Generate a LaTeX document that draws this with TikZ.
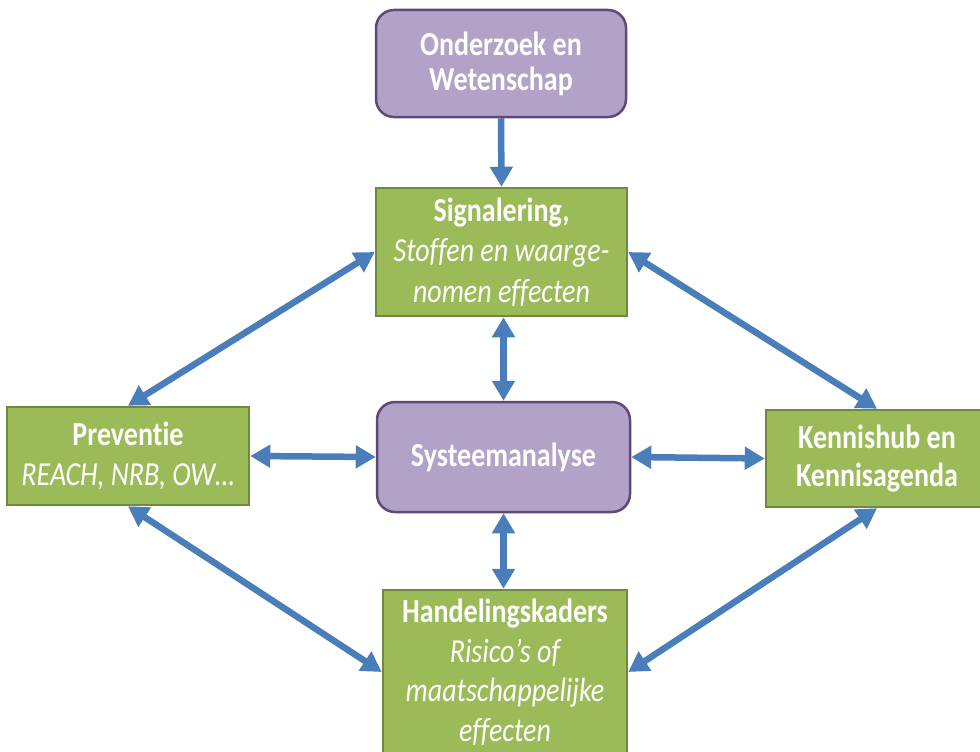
\documentclass[tikz,border=0pt]{standalone}
\usepackage{fontspec}
\setmainfont[Ligatures=NoCommon]{Carlito}
\usepackage{graphicx}
\usetikzlibrary{arrows.meta}
\definecolor{purfill}{HTML}{B3A2C7}
\definecolor{purline}{HTML}{5F497A}
\definecolor{grnfill}{HTML}{9BBB59}
\definecolor{grnline}{HTML}{71893F}
\definecolor{arrblue}{HTML}{4A7EBB}
\newcommand{\boxtext}[3]{\scalebox{1}[1.2]{\parbox{#1}{\centering\fontsize{28}{#2}\selectfont #3}}}
\begin{document}
\begin{tikzpicture}[x=1pt,y=-1pt,
  purbox/.style={draw=purline, fill=purfill, line width=2.5pt, rounded corners=18pt, inner sep=0pt, text=white},
  grnbox/.style={draw=grnline, fill=grnfill, line width=2.5pt, inner sep=0pt, text=white},
  oneway/.style={draw=arrblue, line width=6.5pt, -{Triangle[length=20pt,width=22pt]}},
  twoway/.style={draw=arrblue, line width=6.5pt, {Triangle[length=20pt,width=22pt]}-{Triangle[length=20pt,width=22pt]}}]
\fill[white] (0,0) rectangle (980,752);
\useasboundingbox (0,0) rectangle (980,752);

\node[purbox, minimum width=250pt, minimum height=107pt] (ow) at (501,63.5)
  {\boxtext{240pt}{29}{\bfseries Onderzoek en\\Wetenschap}};
\node[grnbox, minimum width=251pt, minimum height=128pt] (sig) at (501.5,252)
  {\boxtext{245pt}{34}{\textbf{Signalering,}\\\itshape Stoffen en waarge-\\nomen effecten}};
\node[purbox, minimum width=253pt, minimum height=110pt] (sys) at (503.5,457)
  {\boxtext{240pt}{29}{\bfseries Systeemanalyse}};
\node[grnbox, minimum width=242pt, minimum height=98pt] (prev) at (128,456)
  {\boxtext{236pt}{33}{\textbf{Preventie}\\\itshape REACH, NRB, OW…}};
\node[grnbox, minimum width=222pt, minimum height=97pt] (kh) at (877,458.5)
  {\boxtext{215pt}{31}{\bfseries Kennishub en\\Kennisagenda}};
\node[grnbox, minimum width=244pt, minimum height=164pt] (hk) at (505,672)
  {\boxtext{240pt}{33}{\textbf{Handelingskaders}\\\itshape Risico’s of\\maatschappelijke\\effecten}};

\draw[oneway] (ow.south) -- (sig.north);
\draw[twoway] (sys.north |- sig.south) -- (sys.north);
\draw[twoway] (sys.south) -- (sys.south |- hk.north);
\draw[twoway] (prev.east) -- (sys.west);
\draw[twoway] (sys.east) -- (kh.west);
\draw[twoway] (prev.north) -- (sig.west);
\draw[twoway] (sig.east) -- (kh.north);
\draw[twoway] (prev.south) -- (hk.west);
\draw[twoway] (kh.south) -- (hk.east);
\end{tikzpicture}
\end{document}
